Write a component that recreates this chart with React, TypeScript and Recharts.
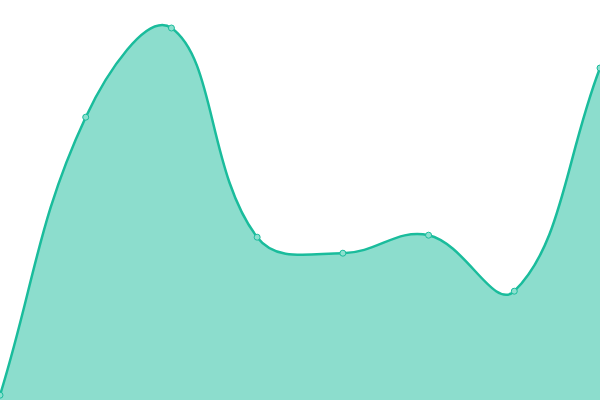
import { AreaChart, Area, XAxis, YAxis } from 'recharts'

const labels = ['A', 'B', 'C', 'D', 'E', 'F', 'G', 'H']
const values = [1.2, 70.7, 93, 40.7, 36.7, 41.2, 27.2, 83]

const COLOR = '#1abc9c'
const TENSION = 0.4

type Pt = { x: number; y: number }

// spline with distance-weighted control points (tension 0.4)
function controls(prev: Pt, cur: Pt, next: Pt) {
  const d01 = Math.hypot(cur.x - prev.x, cur.y - prev.y)
  const d12 = Math.hypot(next.x - cur.x, next.y - cur.y)
  const s01 = d01 + d12 ? d01 / (d01 + d12) : 0
  const s12 = d01 + d12 ? d12 / (d01 + d12) : 0
  const fa = TENSION * s01
  const fb = TENSION * s12
  return {
    before: { x: cur.x - fa * (next.x - prev.x), y: cur.y - fa * (next.y - prev.y) },
    after: { x: cur.x + fb * (next.x - prev.x), y: cur.y + fb * (next.y - prev.y) },
  }
}

function smoothCurve(ctx: any) {
  let line = NaN
  let pts: Pt[] = []
  return {
    areaStart() { line = 0 },
    areaEnd() { line = NaN },
    lineStart() { pts = [] },
    lineEnd() {
      const n = pts.length
      if (n) {
        if (line) ctx.lineTo(pts[0].x, pts[0].y)
        else ctx.moveTo(pts[0].x, pts[0].y)
        const cps = pts.map((p, i) => controls(pts[Math.max(0, i - 1)], p, pts[Math.min(n - 1, i + 1)]))
        for (let i = 0; i < n - 1; i++) {
          const a = cps[i].after
          const b = cps[i + 1].before
          ctx.bezierCurveTo(a.x, a.y, b.x, b.y, pts[i + 1].x, pts[i + 1].y)
        }
      }
      if (line || (line !== 0 && n === 1)) ctx.closePath()
      line = 1 - line
    },
    point(x: number, y: number) { pts.push({ x: +x, y: +y }) },
  }
}

export default function App() {
  const data = labels.map((name, i) => ({ name, value: values[i] }))

  return (
    <div style={{ position: 'fixed', left: 0, top: 0, width: 600, height: 400, background: '#fff' }}>
      <AreaChart width={600} height={400} data={data} margin={{ top: 0, right: 0, bottom: 0, left: 0 }}>
        <XAxis dataKey="name" hide />
        <YAxis domain={[0, 100]} hide />
        <Area
          type={smoothCurve as any}
          dataKey="value"
          stroke={COLOR}
          strokeWidth={2.5}
          fill={COLOR}
          fillOpacity={0.5}
          dot={{ r: 3, fill: '#8ce0cf', stroke: COLOR, strokeWidth: 1, fillOpacity: 1 }}
          activeDot={false}
          isAnimationActive={false}
        />
      </AreaChart>
    </div>
  )
}
